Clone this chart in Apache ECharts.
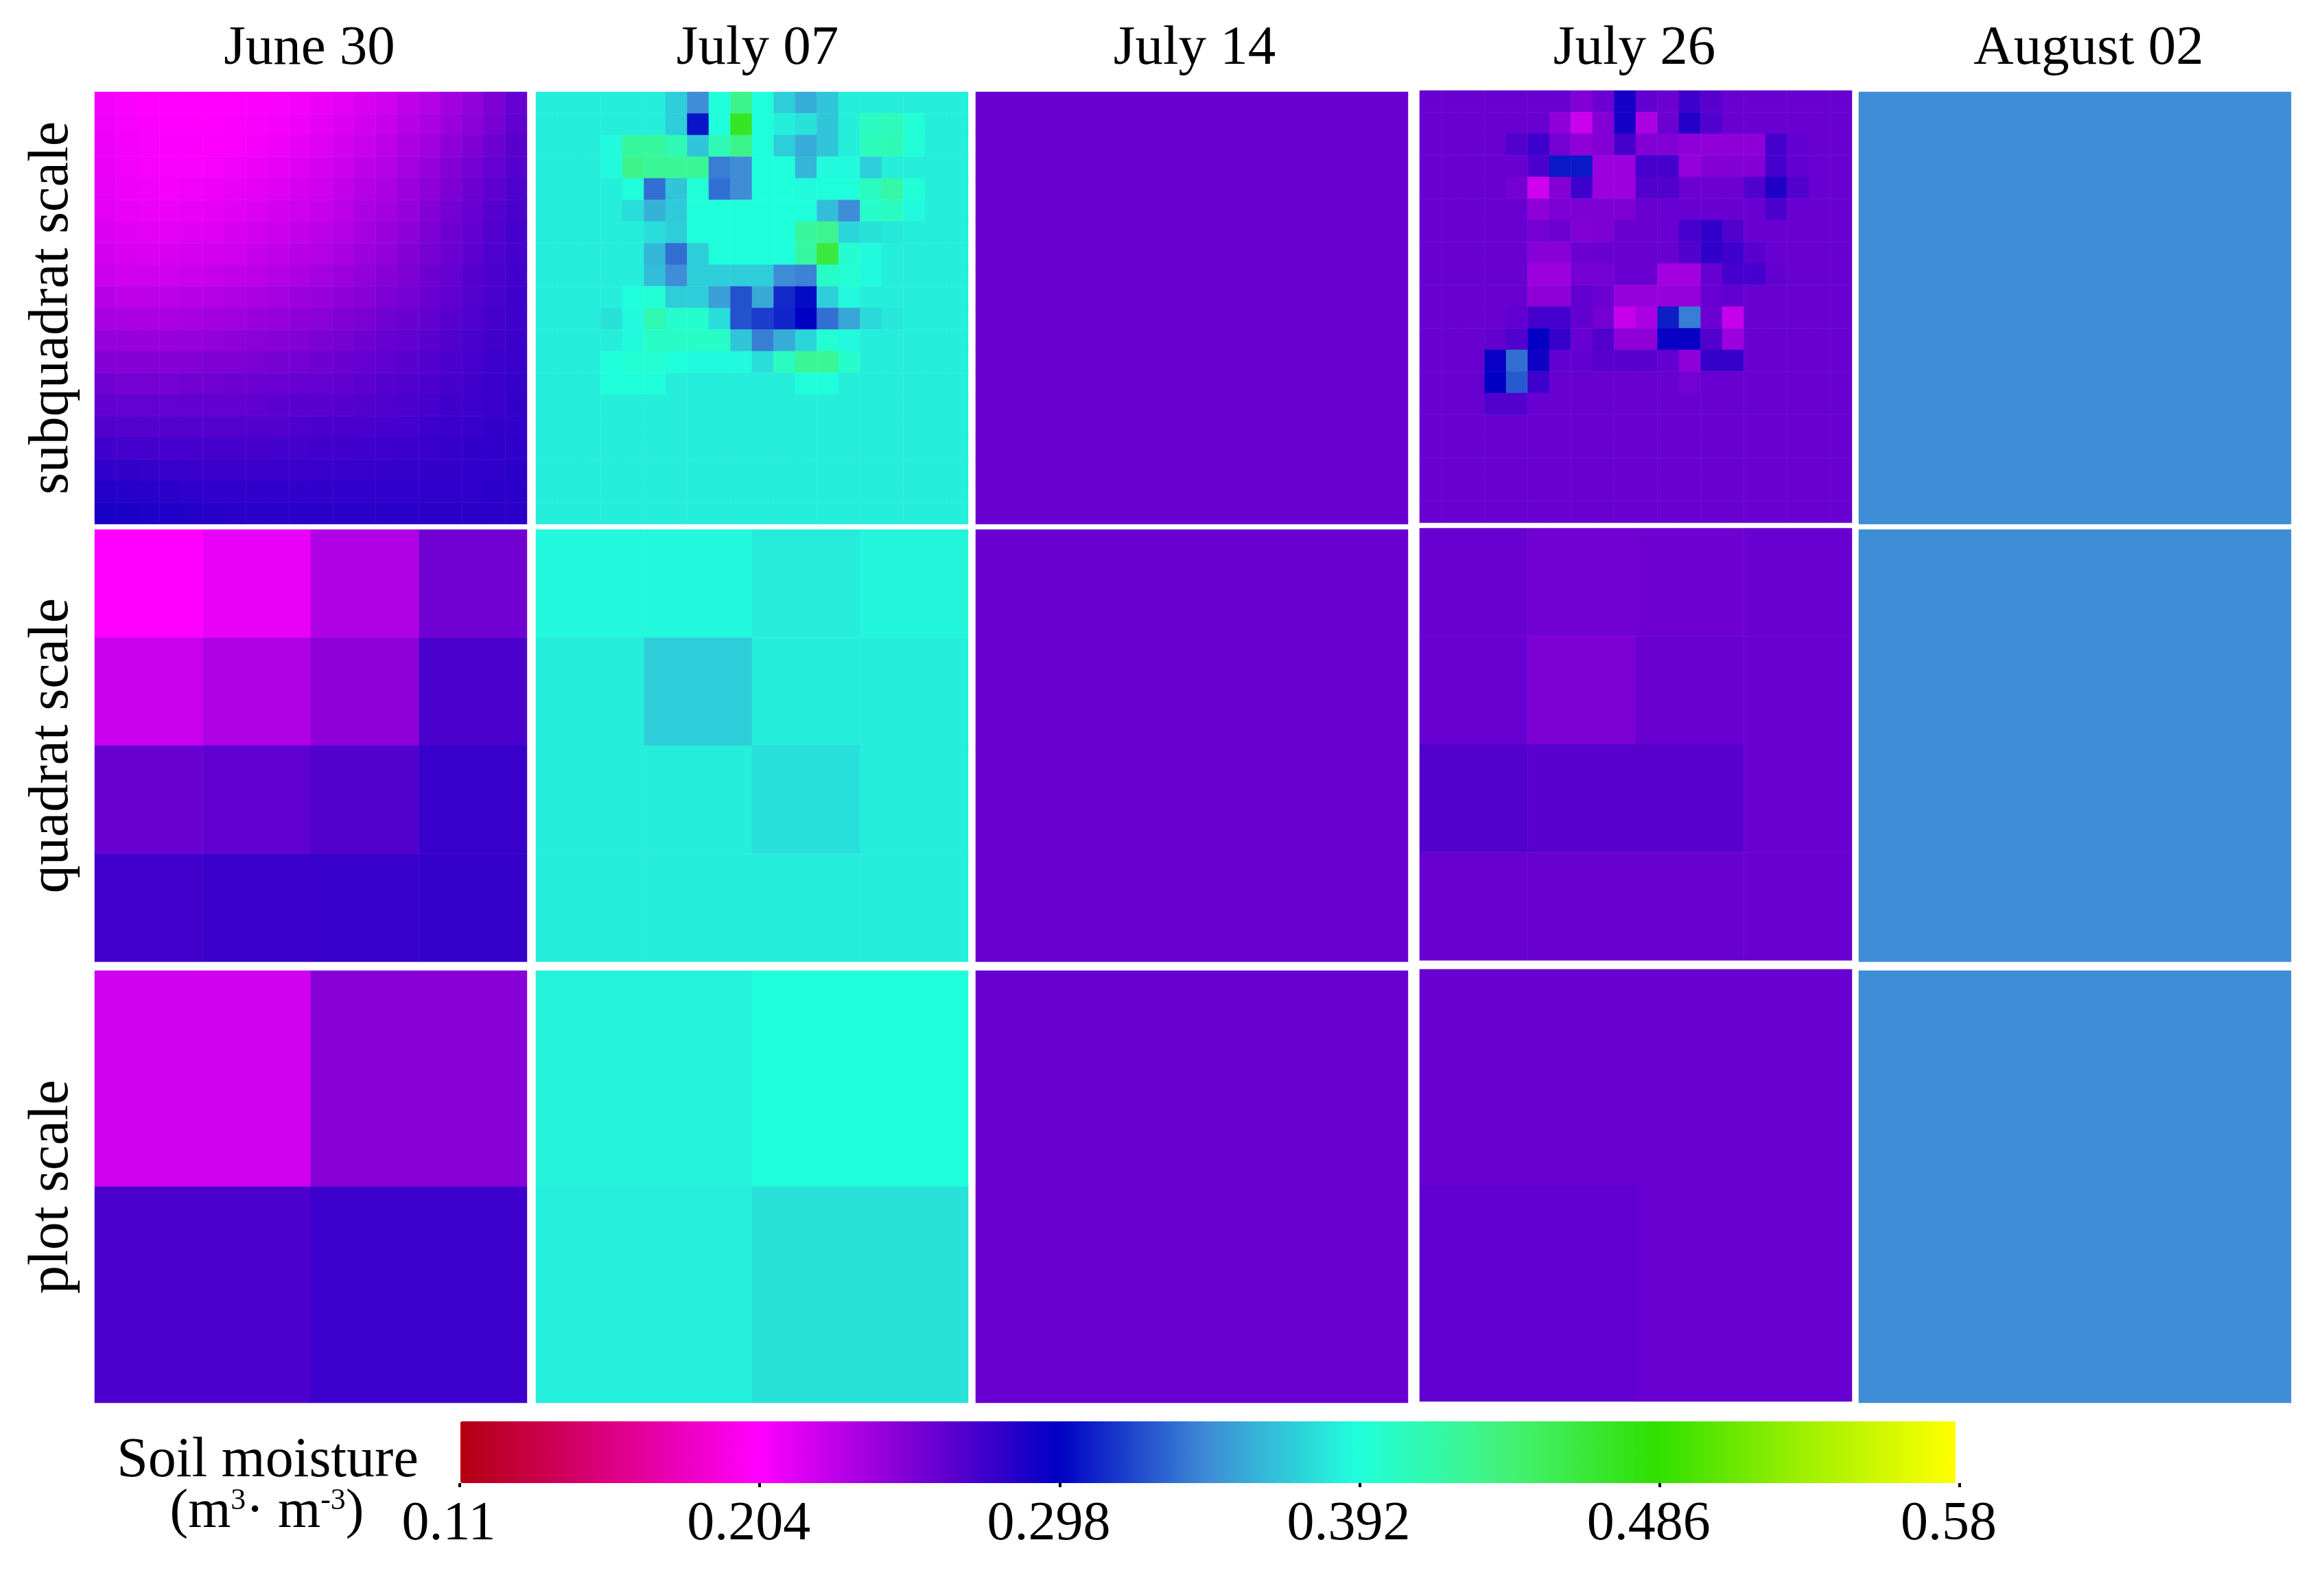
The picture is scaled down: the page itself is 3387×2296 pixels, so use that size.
<!DOCTYPE html>
<html>
<head>
<meta charset="utf-8">
<title>Soil moisture maps</title>
<script src="https://cdn.jsdelivr.net/npm/echarts@6/dist/echarts.min.js"></script>
<style>
  html, body { margin: 0; padding: 0; background: #fff; }
  #chart { width: 3387px; height: 2296px; }
</style>
</head>
<body>
<div id="chart"></div>
<script>
const dates = ['June 30', 'July 07', 'July 14', 'July 26', 'August 02'];
const scales = ['subquadrat scale', 'quadrat scale', 'plot scale'];
const colorbarTicks = [0.11, 0.204, 0.298, 0.392, 0.486, 0.58];

// values, one row per line, top row first
const june30Sub = [
  [.208,.206,.204,.204,.204,.204,.204,.205,.206,.208,.211,.214,.218,.222,.227,.232,.238,.244,.252,.261],
  [.209,.207,.205,.204,.204,.204,.205,.206,.208,.210,.213,.217,.221,.225,.230,.235,.241,.247,.254,.263],
  [.210,.208,.206,.205,.205,.205,.206,.208,.210,.213,.216,.220,.224,.229,.234,.239,.245,.251,.258,.265],
  [.211,.209,.207,.206,.206,.207,.209,.211,.213,.216,.219,.223,.228,.232,.237,.243,.249,.255,.261,.267],
  [.212,.210,.209,.208,.209,.210,.212,.214,.216,.219,.222,.226,.231,.235,.240,.246,.252,.258,.264,.269],
  [.214,.212,.211,.211,.212,.213,.215,.217,.220,.222,.225,.229,.234,.238,.243,.249,.255,.260,.266,.271],
  [.217,.215,.214,.214,.215,.216,.218,.221,.223,.226,.229,.232,.237,.241,.246,.252,.257,.262,.268,.272],
  [.220,.218,.217,.218,.219,.220,.222,.225,.227,.230,.232,.236,.240,.244,.249,.254,.259,.264,.269,.273],
  [.224,.222,.222,.222,.223,.225,.227,.229,.232,.234,.237,.240,.244,.248,.252,.257,.261,.266,.270,.274],
  [.230,.228,.228,.229,.230,.231,.233,.235,.237,.240,.242,.245,.248,.252,.255,.259,.263,.267,.271,.275],
  [.236,.235,.235,.235,.236,.238,.239,.241,.243,.245,.247,.250,.253,.256,.259,.262,.265,.269,.272,.275],
  [.243,.242,.242,.242,.243,.244,.245,.247,.248,.250,.252,.254,.257,.260,.262,.265,.268,.271,.274,.276],
  [.250,.249,.249,.249,.250,.251,.251,.253,.254,.255,.257,.259,.261,.263,.265,.268,.270,.272,.275,.277],
  [.256,.255,.255,.255,.256,.256,.257,.258,.259,.260,.261,.262,.264,.266,.268,.270,.272,.274,.276,.278],
  [.262,.261,.261,.261,.262,.262,.262,.263,.264,.265,.265,.266,.268,.269,.270,.272,.274,.275,.277,.279],
  [.268,.267,.267,.267,.267,.267,.267,.268,.268,.269,.270,.270,.271,.272,.273,.275,.276,.277,.279,.280],
  [.274,.273,.273,.272,.272,.272,.272,.272,.273,.273,.274,.274,.275,.275,.276,.277,.278,.279,.280,.281],
  [.280,.279,.278,.277,.277,.276,.276,.276,.276,.276,.277,.277,.277,.278,.278,.279,.279,.280,.281,.282],
  [.285,.284,.283,.282,.281,.280,.280,.280,.280,.280,.280,.280,.280,.280,.280,.281,.281,.281,.282,.282],
  [.289,.288,.287,.286,.285,.284,.283,.283,.283,.283,.282,.282,.282,.282,.282,.282,.282,.282,.282,.282]
];
const june30Quad = [
  [.204,.212,.233,.256],
  [.224,.233,.245,.271],
  [.260,.263,.268,.277],
  [.274,.276,.277,.278]
];
const june30Plot = [
  [.222,.248],
  [.270,.275]
];

const july07Sub = [
  [.385,.385,.385,.385,.385,.385,.372,.345,.392,.430,.392,.372,.358,.368,.385,.385,.385,.385,.385,.385],
  [.385,.385,.385,.385,.385,.385,.372,.305,.392,.472,.392,.385,.380,.368,.385,.405,.408,.395,.385,.385],
  [.385,.385,.385,.390,.422,.422,.410,.368,.410,.430,.392,.372,.358,.368,.385,.408,.410,.395,.385,.385],
  [.385,.385,.385,.390,.430,.425,.425,.425,.340,.345,.392,.392,.362,.390,.390,.372,.385,.385,.385,.385],
  [.385,.385,.385,.385,.392,.335,.368,.395,.335,.345,.392,.392,.390,.392,.392,.405,.418,.395,.385,.385],
  [.385,.385,.385,.385,.378,.360,.370,.392,.392,.392,.392,.392,.392,.365,.345,.400,.405,.390,.385,.385],
  [.385,.385,.385,.385,.385,.378,.372,.392,.392,.392,.392,.392,.422,.428,.375,.380,.382,.385,.385,.385],
  [.385,.385,.385,.385,.385,.362,.335,.372,.392,.392,.392,.392,.420,.462,.398,.390,.385,.385,.385,.385],
  [.385,.385,.385,.385,.385,.365,.345,.372,.372,.372,.372,.345,.342,.402,.396,.390,.385,.385,.385,.385],
  [.385,.385,.385,.385,.392,.395,.372,.372,.352,.325,.356,.312,.302,.372,.390,.385,.385,.385,.385,.385],
  [.385,.385,.385,.380,.390,.412,.398,.398,.378,.325,.318,.310,.298,.335,.355,.376,.382,.385,.385,.385],
  [.385,.385,.385,.385,.390,.402,.402,.402,.402,.368,.340,.358,.375,.396,.390,.385,.385,.385,.385,.385],
  [.385,.385,.385,.392,.396,.396,.392,.390,.390,.390,.378,.405,.425,.425,.400,.385,.385,.385,.385,.385],
  [.385,.385,.385,.392,.392,.392,.385,.385,.385,.385,.385,.385,.392,.392,.385,.385,.385,.385,.385,.385],
  [.385,.385,.385,.385,.385,.385,.385,.385,.385,.385,.385,.385,.385,.385,.385,.385,.385,.385,.385,.385],
  [.385,.385,.385,.385,.385,.385,.385,.385,.385,.385,.385,.385,.385,.385,.385,.385,.385,.385,.385,.385],
  [.385,.385,.385,.385,.385,.385,.385,.385,.385,.385,.385,.385,.385,.385,.385,.385,.385,.385,.385,.385],
  [.385,.385,.385,.385,.385,.385,.385,.385,.385,.385,.385,.385,.385,.385,.385,.385,.385,.385,.385,.385],
  [.385,.385,.385,.385,.385,.385,.385,.385,.385,.385,.385,.385,.385,.385,.385,.385,.385,.385,.385,.385],
  [.385,.385,.385,.385,.385,.385,.385,.385,.385,.385,.385,.385,.385,.385,.385,.385,.385,.385,.385,.385]
];
const july07Quad = [
  [.389,.389,.384,.388],
  [.385,.372,.385,.385],
  [.385,.385,.379,.385],
  [.385,.385,.385,.385]
];
const july07Plot = [
  [.387,.392],
  [.386,.380]
];

const july14All = [[.260]];

const july26Sub = [
  [.260,.260,.260,.260,.260,.260,.260,.250,.258,.290,.262,.258,.275,.265,.260,.260,.260,.260,.260,.260],
  [.260,.260,.260,.260,.260,.260,.245,.224,.250,.290,.235,.258,.285,.268,.260,.260,.260,.260,.260,.260],
  [.260,.260,.260,.260,.268,.275,.255,.245,.250,.272,.250,.250,.245,.245,.245,.245,.272,.262,.260,.260],
  [.260,.260,.260,.260,.260,.270,.306,.306,.240,.240,.272,.272,.243,.250,.250,.250,.272,.262,.260,.260],
  [.260,.260,.260,.260,.255,.222,.250,.275,.240,.240,.268,.268,.258,.258,.258,.268,.286,.268,.260,.260],
  [.260,.260,.260,.260,.260,.245,.252,.252,.252,.252,.260,.260,.260,.260,.260,.260,.270,.260,.260,.260],
  [.260,.260,.260,.260,.260,.255,.258,.250,.252,.260,.260,.260,.272,.280,.268,.260,.260,.260,.260,.260],
  [.260,.260,.260,.260,.260,.248,.248,.258,.260,.260,.260,.260,.268,.280,.275,.265,.260,.260,.260,.260],
  [.260,.260,.260,.260,.260,.240,.240,.255,.255,.260,.260,.238,.238,.260,.272,.272,.262,.260,.260,.260],
  [.260,.260,.260,.260,.260,.245,.245,.262,.258,.243,.243,.243,.243,.260,.262,.260,.260,.260,.260,.260],
  [.260,.260,.260,.260,.262,.272,.272,.262,.255,.225,.235,.308,.340,.258,.225,.260,.260,.260,.260,.260],
  [.260,.260,.260,.262,.268,.296,.278,.260,.268,.245,.245,.295,.295,.268,.240,.260,.260,.260,.260,.260],
  [.260,.260,.260,.295,.335,.292,.262,.262,.265,.265,.265,.262,.245,.278,.278,.260,.260,.260,.260,.260],
  [.260,.260,.260,.298,.328,.275,.260,.260,.260,.260,.260,.260,.255,.260,.260,.260,.260,.260,.260,.260],
  [.260,.260,.260,.268,.268,.260,.260,.260,.260,.260,.260,.260,.260,.260,.260,.260,.260,.260,.260,.260],
  [.260,.260,.260,.260,.260,.260,.260,.260,.260,.260,.260,.260,.260,.260,.260,.260,.260,.260,.260,.260],
  [.260,.260,.260,.260,.260,.260,.260,.260,.260,.260,.260,.260,.260,.260,.260,.260,.260,.260,.260,.260],
  [.260,.260,.260,.260,.260,.260,.260,.260,.260,.260,.260,.260,.260,.260,.260,.260,.260,.260,.260,.260],
  [.260,.260,.260,.260,.260,.260,.260,.260,.260,.260,.260,.260,.260,.260,.260,.260,.260,.260,.260,.260],
  [.260,.260,.260,.260,.260,.260,.260,.260,.260,.260,.260,.260,.260,.260,.260,.260,.260,.260,.260,.260]
];
const july26Quad = [
  [.260,.256,.257,.260],
  [.260,.252,.260,.260],
  [.268,.265,.265,.260],
  [.260,.260,.260,.260]
];
const july26Plot = [
  [.260,.260],
  [.263,.260]
];

const august02All = [[.345]];

const panels = [
  [june30Sub, july07Sub, july14All, july26Sub, august02All],
  [june30Quad, july07Quad, july14All, july26Quad, august02All],
  [june30Plot, july07Plot, july14All, july26Plot, august02All]
];

const colorStops = ['#b40010', '#dc0080', '#ff00ff', '#7f00d4', '#0000c4', '#3f8dd6',
  '#20ffdc', '#44f278', '#30e000', '#a0f000', '#ffff00'];

const serif = '"Liberation Serif", serif';
const colLeft = [138, 781, 1422, 2069, 2709];
const rowTop = [134, 772, 1415];
const headerX = [451, 1104, 1741, 2382, 3044];
const panelSize = 630;

const grids = [];
const xAxes = [];
const yAxes = [];
const series = [];

panels.forEach((row, r) => {
  row.forEach((matrix, c) => {
    const cells = [];
    matrix.forEach((line, j) => {
      line.forEach((v, i) => cells.push([i, j, v]));
    });
    const idx = grids.length;
    grids.push({
      left: colLeft[c],
      top: rowTop[r] - (c === 3 ? 2 : 0),
      width: panelSize,
      height: panelSize
    });
    xAxes.push({
      gridIndex: idx,
      type: 'category',
      show: false,
      data: matrix[0].map((_, i) => i)
    });
    yAxes.push({
      gridIndex: idx,
      type: 'category',
      inverse: true,
      data: matrix.map((_, i) => i),
      name: c === 0 ? scales[r] : '',
      nameLocation: 'middle',
      nameGap: 21,
      nameTextStyle: { fontFamily: serif, fontSize: 82, color: '#000' },
      axisLine: { show: false },
      axisTick: { show: false },
      axisLabel: { show: false },
      splitLine: { show: false }
    });
    series.push({
      type: 'heatmap',
      xAxisIndex: idx,
      yAxisIndex: idx,
      data: cells,
      silent: true,
      progressive: 0,
      itemStyle: { borderWidth: 0 }
    });
  });
});

// axis under the colour bar, only carries ticks and labels
const barIndex = grids.length;
grids.push({ left: 670, top: 2072, width: 2186, height: 90 });
xAxes.push({
  gridIndex: barIndex,
  type: 'value',
  min: 0.11,
  max: 0.58,
  axisLine: { show: false },
  splitLine: { show: false },
  axisTick: { show: true, customValues: colorbarTicks, length: 6, lineStyle: { color: '#000', width: 4 } },
  axisLabel: {
    show: true,
    customValues: colorbarTicks,
    margin: 21,
    padding: [0, 32, 0, 0],
    fontFamily: serif,
    fontSize: 80,
    color: '#000'
  }
});
yAxes.push({ gridIndex: barIndex, type: 'value', show: false, min: 0, max: 1 });

const titles = dates.map((d, i) => ({
  text: d,
  left: headerX[i],
  top: 72,
  padding: 0,
  textAlign: 'center',
  textVerticalAlign: 'middle',
  textStyle: { fontFamily: serif, fontSize: 81, fontWeight: 'normal', color: '#000' }
}));
titles.push({
  text: 'Soil moisture',
  left: 390,
  top: 2130,
  padding: 0,
  textAlign: 'center',
  textVerticalAlign: 'middle',
  textStyle: { fontFamily: serif, fontSize: 82, fontWeight: 'normal', color: '#000' }
});
titles.push({
  text: '(m{sup|3}· m{sup|-3})',
  left: 389,
  top: 2205,
  padding: 0,
  textAlign: 'center',
  textVerticalAlign: 'middle',
  textStyle: {
    fontFamily: serif,
    fontSize: 80,
    fontWeight: 'normal',
    color: '#000',
    rich: {
      sup: { fontFamily: serif, fontSize: 44, color: '#000', padding: [0, 0, 34, 0] }
    }
  }
});

const myChart = echarts.init(document.getElementById('chart'), null, { renderer: 'canvas' });
myChart.setOption({
  animation: false,
  backgroundColor: '#fff',
  title: titles,
  grid: grids,
  xAxis: xAxes,
  yAxis: yAxes,
  visualMap: {
    type: 'continuous',
    min: 0.11,
    max: 0.58,
    orient: 'horizontal',
    calculable: false,
    left: 671,
    top: 2072,
    padding: 0,
    itemWidth: 90,
    itemHeight: 2179,
    text: null,
    showLabel: false,
    inRange: { color: colorStops }
  },
  series: series
});
</script>
</body>
</html>
